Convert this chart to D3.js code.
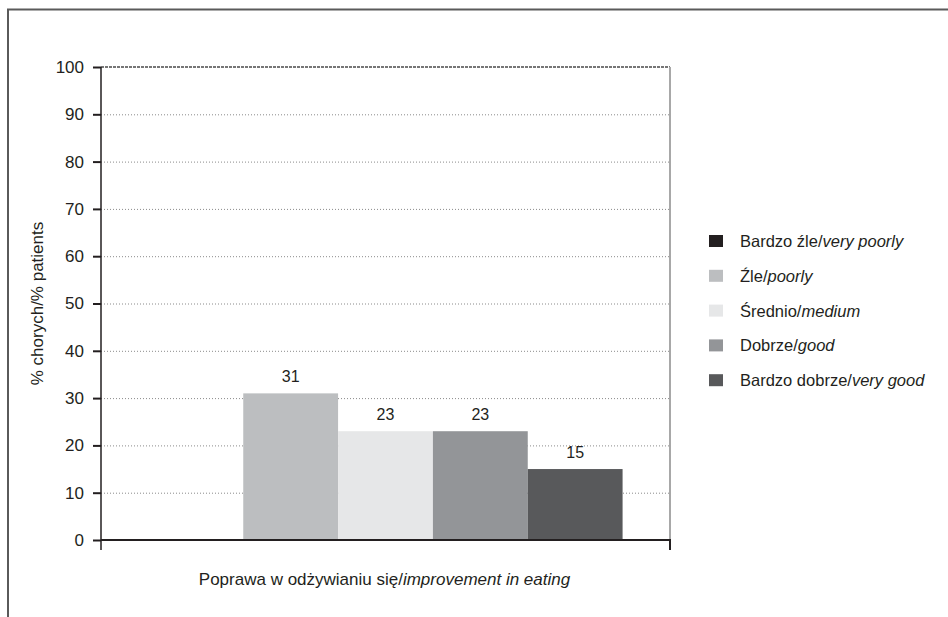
<!DOCTYPE html>
<html>
<head>
<meta charset="utf-8">
<script src="https://cdn.jsdelivr.net/npm/d3@7"></script>
<style>
  html, body { margin: 0; padding: 0; background: #fff; }
  svg { display: block; font-family: "Liberation Sans", Arial, sans-serif; }
</style>
</head>
<body>
<svg id="chart" width="948" height="617"></svg>
<script>
// Chart data
const categories = ["Poprawa w odżywianiu się"];
const seriesNames = ["Bardzo źle", "Źle", "Średnio", "Dobrze", "Bardzo dobrze"];
const seriesNamesEn = ["very poorly", "poorly", "medium", "good", "very good"];
const seriesValues = [0, 31, 23, 23, 15];
const seriesColors = ["#231f20", "#bcbec0", "#e6e7e8", "#939598", "#58595b"];
const yTicks = [0, 10, 20, 30, 40, 50, 60, 70, 80, 90, 100];
const xTitlePl = "Poprawa w odżywianiu się/";
const xTitleEn = "improvement in eating";
const yTitle = "% chorych/% patients";

const svg = d3.select("#chart");
const plot = { left: 101, right: 670, top: 67, bottom: 540 };

// Outer frame (top and left rule)
svg.append("path")
  .attr("d", "M8,617 L8,9.5 L948,9.5")
  .attr("fill", "none")
  .attr("stroke", "#5a5a5a")
  .attr("stroke-width", 2);

const y = d3.scaleLinear().domain([0, 100]).range([plot.bottom, plot.top]);
const x0 = d3.scaleBand().domain(categories)
  .range([plot.left, plot.right]).paddingInner(0).paddingOuter(0.1);
const x1 = d3.scaleBand().domain(seriesNames).range([0, x0.bandwidth()]);

// Dotted grid lines
svg.append("g").selectAll("line")
  .data(yTicks.filter(d => d > 0 && d < 100))
  .join("line")
  .attr("x1", plot.left).attr("x2", plot.right)
  .attr("y1", d => y(d) + 0.5).attr("y2", d => y(d) + 0.5)
  .attr("stroke", "#8a8a8a")
  .attr("stroke-width", 1)
  .attr("stroke-dasharray", "1,2");

// Top border of the plot
svg.append("line")
  .attr("x1", plot.left).attr("x2", plot.right)
  .attr("y1", y(100)).attr("y2", y(100))
  .attr("stroke", "#4a4a4a").attr("stroke-width", 1.5)
  .attr("stroke-dasharray", "3,1");

// Right border of the plot
svg.append("line")
  .attr("x1", plot.right).attr("x2", plot.right)
  .attr("y1", y(100)).attr("y2", y(0))
  .attr("stroke", "#a8a8a8").attr("stroke-width", 2);

// Bars
const group = svg.append("g").selectAll("g")
  .data(categories)
  .join("g")
  .attr("transform", d => `translate(${x0(d)},0)`);

const barData = seriesNames.map((name, i) => ({ name, value: seriesValues[i], color: seriesColors[i] }));

group.selectAll("rect")
  .data(barData)
  .join("rect")
  .attr("x", d => x1(d.name))
  .attr("width", x1.bandwidth())
  .attr("y", d => y(d.value))
  .attr("height", d => y(0) - y(d.value))
  .attr("fill", d => d.color);

// Value labels (zero-height bars are left unlabelled)
group.selectAll("text.val")
  .data(barData.filter(d => d.value > 0))
  .join("text")
  .attr("class", "val")
  .attr("x", d => x1(d.name) + x1.bandwidth() / 2)
  .attr("y", d => y(d.value) - 11)
  .attr("text-anchor", "middle")
  .attr("font-size", 16)
  .attr("fill", "#231f20")
  .text(d => d.value);

// Y axis
const yAxis = d3.axisLeft(y).tickValues(yTicks).tickSize(8).tickPadding(9).tickSizeOuter(0);
const yg = svg.append("g").attr("transform", `translate(${plot.left},0)`).call(yAxis);
yg.select(".domain").remove();
yg.selectAll(".tick line").attr("stroke", "#231f20").attr("stroke-width", 2);
yg.selectAll(".tick text")
  .attr("font-size", 17)
  .attr("fill", "#231f20")
  .attr("font-family", "\"Liberation Sans\", Arial, sans-serif");

// Axis lines
svg.append("line")
  .attr("x1", plot.left).attr("x2", plot.left)
  .attr("y1", y(100)).attr("y2", y(0) + 10)
  .attr("stroke", "#231f20").attr("stroke-width", 1.5);
svg.append("line")
  .attr("x1", plot.left).attr("x2", plot.right + 1)
  .attr("y1", y(0)).attr("y2", y(0))
  .attr("stroke", "#231f20").attr("stroke-width", 2);
svg.append("line")
  .attr("x1", plot.right).attr("x2", plot.right)
  .attr("y1", y(0)).attr("y2", y(0) + 10)
  .attr("stroke", "#231f20").attr("stroke-width", 2);

// X axis title
const xt = svg.append("text")
  .attr("x", (plot.left + plot.right) / 2 - 1)
  .attr("y", 585)
  .attr("text-anchor", "middle")
  .attr("font-size", 17)
  .attr("fill", "#231f20");
xt.append("tspan").text(xTitlePl);
xt.append("tspan").attr("font-style", "italic").text(xTitleEn);

// Y axis title
svg.append("text")
  .attr("transform", `translate(43,${(plot.top + plot.bottom) / 2}) rotate(-90)`)
  .attr("text-anchor", "middle")
  .attr("font-size", 17)
  .attr("fill", "#231f20")
  .text(yTitle);

// Legend
const legend = svg.append("g").attr("transform", "translate(709,241)");
const rows = legend.selectAll("g")
  .data(seriesNames.map((n, i) => ({ pl: n, en: seriesNamesEn[i], color: seriesColors[i] })))
  .join("g")
  .attr("transform", (d, i) => `translate(0,${i * 34.8})`);
rows.append("rect")
  .attr("x", 0).attr("y", -6)
  .attr("width", 14).attr("height", 12)
  .attr("fill", d => d.color);
const lt = rows.append("text")
  .attr("x", 31).attr("y", 6)
  .attr("font-size", 16.5)
  .attr("fill", "#231f20");
lt.append("tspan").text(d => d.pl + "/");
lt.append("tspan").attr("font-style", "italic").text(d => d.en);
</script>
</body>
</html>
